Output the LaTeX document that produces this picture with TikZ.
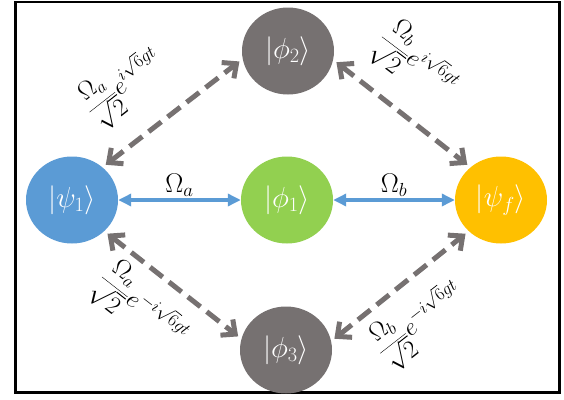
\RequirePackage{fix-cm}
\documentclass[tikz,border=0pt]{standalone}
\usetikzlibrary{arrows.meta,shapes.geometric}
\definecolor{cblue}{HTML}{5B9BD5}
\definecolor{cgreen}{HTML}{92D050}
\definecolor{cgold}{HTML}{FFC000}
\definecolor{cgray}{HTML}{767171}
\begin{document}
\begin{tikzpicture}[x=1pt,y=-1pt,
  state/.style={ellipse, minimum width=92pt, minimum height=87pt, inner sep=0pt,
    text=white, font=\fontsize{29}{32}\selectfont},
  bluearrow/.style={draw=cblue, line width=3.3pt,
    {Triangle[length=13pt,width=12pt]}-{Triangle[length=13pt,width=12pt]}},
  grayarrow/.style={draw=cgray, line width=5pt, dash pattern=on 16pt off 8pt,
    {Straight Barb[length=11pt,width=20pt]}-{Straight Barb[length=11pt,width=20pt]},
    shorten <=4pt, shorten >=4pt},
  coup/.style={font=\fontsize{27}{30}\selectfont, inner sep=1pt},
  fraclab/.style={font=\fontsize{25}{28}\selectfont, inner sep=0pt}]
\useasboundingbox (0,0) rectangle (564,399);
\draw[line width=2.8pt] (15.3,2) rectangle (559.8,392.8);

\node[state, fill=cblue]  (psi1) at (72,200)  {$|\psi_1\rangle$};
\node[state, fill=cgreen] (phi1) at (287,200) {$|\phi_1\rangle$};
\node[state, fill=cgold]  (psif) at (501,200) {$|\psi_f\rangle$};
\node[state, fill=cgray]  (phi2) at (288,51)  {$|\phi_2\rangle$};
\node[state, fill=cgray]  (phi3) at (286,350) {$|\phi_3\rangle$};

\draw[bluearrow] (psi1) -- (phi1) node[coup, midway, above=1pt] (la) {$\Omega_a$};
\draw[bluearrow] (phi1) -- (psif) node[coup, midway, above=1pt] (lb) {$\Omega_b$};

\draw[grayarrow] (psi1.47) -- (phi2.190);
\draw[grayarrow] (phi2.349) -- (psif.133);
\draw[grayarrow] (psi1.316) -- (phi3.166);
\draw[grayarrow] (phi3.11) -- (psif.224);

\node[fraclab, rotate=38]  (l1) at (124,85)  {$\displaystyle\frac{\Omega_a}{\sqrt{2}}e^{i\sqrt{6}gt}$};
\node[fraclab, rotate=-37] (l2) at (417,63)  {$\displaystyle\frac{\Omega_b}{\sqrt{2}}e^{i\sqrt{6}gt}$};
\node[fraclab, rotate=-38] (l3) at (142,308) {$\displaystyle\frac{\Omega_a}{\sqrt{2}}e^{-i\sqrt{6}gt}$};
\node[fraclab, rotate=38]  (l4) at (420,322) {$\displaystyle\frac{\Omega_b}{\sqrt{2}}e^{-i\sqrt{6}gt}$};
\end{tikzpicture}
\end{document}
